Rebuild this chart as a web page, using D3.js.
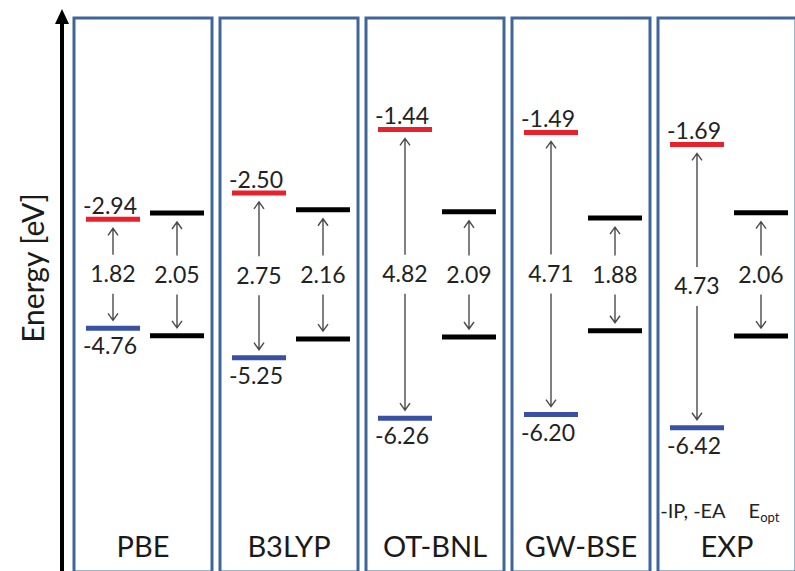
<!DOCTYPE html>
<html>
<head>
<meta charset="utf-8">
<script src="https://cdn.jsdelivr.net/npm/d3@7/dist/d3.min.js"></script>
<style>
  html, body { margin: 0; padding: 0; background: #fff; }
  svg { display: block; font-family: Lato, "Open Sans", sans-serif; }
</style>
</head>
<body>
<svg id="chart" width="795" height="571"></svg>
<script>
// Methods compared
const methods = ["PBE", "B3LYP", "OT-BNL", "GW-BSE", "EXP"];
// -EA (LUMO-like level), eV
const negEA = [-2.94, -2.50, -1.44, -1.49, -1.69];
// -IP (HOMO-like level), eV
const negIP = [-4.76, -5.25, -6.26, -6.20, -6.42];
// Optical gaps, eV
const opticalGap = [2.05, 2.16, 2.09, 1.88, 2.06];
// Optical levels are drawn symmetric about this energy
const opticalCenter = -3.86;

const svg = d3.select("#chart");

// Energy scale (vertical)
const y = d3.scaleLinear().domain([0, -8]).range([43.2, 522.4]);

// One panel per method
const x = d3.scaleBand()
  .domain(methods)
  .range([74, 796])
  .paddingInner(8 / 146)
  .paddingOuter(0);

// Inside each panel: fundamental levels on the left, optical on the right
const sub = d3.scaleBand()
  .domain(["fund", "opt"])
  .range([12, 130])
  .paddingInner(10 / 64)
  .paddingOuter(0);

const panelTop = 18, panelBottom = 572;

const rows = methods.map((m, i) => ({
  method: m,
  ea: negEA[i],
  ip: negIP[i],
  gap: +(negEA[i] - negIP[i]).toFixed(2),
  opt: opticalGap[i],
  optTop: opticalCenter + opticalGap[i] / 2,
  optBot: opticalCenter - opticalGap[i] / 2
}));

// Y axis arrow
svg.append("line")
  .attr("x1", 62).attr("x2", 62)
  .attr("y1", 575).attr("y2", 20)
  .attr("stroke", "#000").attr("stroke-width", 4);
svg.append("path")
  .attr("d", "M62,9 L55,24 L69,24 Z")
  .attr("fill", "#000");

svg.append("text")
  .attr("transform", "translate(44,268) rotate(-90)")
  .attr("text-anchor", "middle")
  .attr("font-size", 30)
  .attr("fill", "#1a1a1a")
  .text("Energy [eV]");

// Panels
const panel = svg.selectAll("g.panel")
  .data(rows)
  .join("g")
  .attr("class", "panel")
  .attr("transform", d => `translate(${x(d.method)},0)`);

panel.append("rect")
  .attr("x", 0).attr("y", panelTop)
  .attr("width", x.bandwidth())
  .attr("height", panelBottom - panelTop)
  .attr("fill", "none")
  .attr("stroke", "#3f6699")
  .attr("stroke-width", 3);

const fx0 = sub("fund"), fx1 = sub("fund") + sub.bandwidth();
const ox0 = sub("opt"), ox1 = sub("opt") + sub.bandwidth();
const fc = (fx0 + fx1) / 2, oc = (ox0 + ox1) / 2;

// Level bars
function level(sel, x0, x1, val, color) {
  sel.append("line")
    .attr("x1", x0).attr("x2", x1)
    .attr("y1", d => y(val(d))).attr("y2", d => y(val(d)))
    .attr("stroke", color).attr("stroke-width", 5);
}
level(panel, fx0, fx1, d => d.ea, "#e8222b");
level(panel, fx0, fx1, d => d.ip, "#3a50a4");
level(panel, ox0, ox1, d => d.optTop, "#000");
level(panel, ox0, ox1, d => d.optBot, "#000");

// Level value labels
panel.append("text")
  .attr("x", fx0 - 3)
  .attr("y", d => y(d.ea) - 5)
  .attr("font-size", 23)
  .attr("fill", "#222")
  .text(d => d.ea.toFixed(2));
panel.append("text")
  .attr("x", fx0 - 3)
  .attr("y", d => y(d.ip) + 26)
  .attr("font-size", 23)
  .attr("fill", "#222")
  .text(d => d.ip.toFixed(2));

// Gap arrows with the gap value in the middle
function gapArrow(sel, cx, top, bot, label) {
  const g = sel.append("g");
  g.each(function (d) {
    const yt = y(top(d)), yb = y(bot(d));
    const mid = (yt + yb) / 2;
    const tipUp = yt + 9, tipDown = yb - 8;
    const el = d3.select(this);
    const stroke = { "stroke": "#4a4a4a", "stroke-width": 1.4, "fill": "none" };
    const up = el.append("path")
      .attr("d", `M${cx},${mid - 19} L${cx},${tipUp} M${cx - 5},${tipUp + 7} L${cx},${tipUp} L${cx + 5},${tipUp + 7}`);
    const down = el.append("path")
      .attr("d", `M${cx},${mid + 20} L${cx},${tipDown} M${cx - 5},${tipDown - 7} L${cx},${tipDown} L${cx + 5},${tipDown - 7}`);
    [up, down].forEach(p => Object.entries(stroke).forEach(([k, v]) => p.attr(k, v)));
    el.append("text")
      .attr("x", cx).attr("y", mid)
      .attr("dy", "0.36em")
      .attr("text-anchor", "middle")
      .attr("font-size", 23)
      .attr("fill", "#222")
      .text(label(d).toFixed(2));
  });
}
gapArrow(panel, fc, d => d.ea, d => d.ip, d => d.gap);
gapArrow(panel, oc, d => d.optTop, d => d.optBot, d => d.opt);

// Method names
panel.append("text")
  .attr("x", x.bandwidth() / 2)
  .attr("y", 557)
  .attr("text-anchor", "middle")
  .attr("font-size", 29)
  .attr("fill", "#1a1a1a")
  .text(d => d.method);

// Column captions in the experimental panel
const expPanel = panel.filter(d => d.method === "EXP");
expPanel.append("text")
  .attr("x", fc - 4)
  .attr("y", 518)
  .attr("text-anchor", "middle")
  .attr("font-size", 20)
  .attr("fill", "#222")
  .text("-IP, -EA");
const eopt = expPanel.append("text")
  .attr("x", oc + 3)
  .attr("y", 518)
  .attr("text-anchor", "middle")
  .attr("font-size", 20)
  .attr("fill", "#222");
eopt.append("tspan").text("E");
eopt.append("tspan").attr("font-size", 13).attr("dy", 4).text("opt");
</script>
</body>
</html>
